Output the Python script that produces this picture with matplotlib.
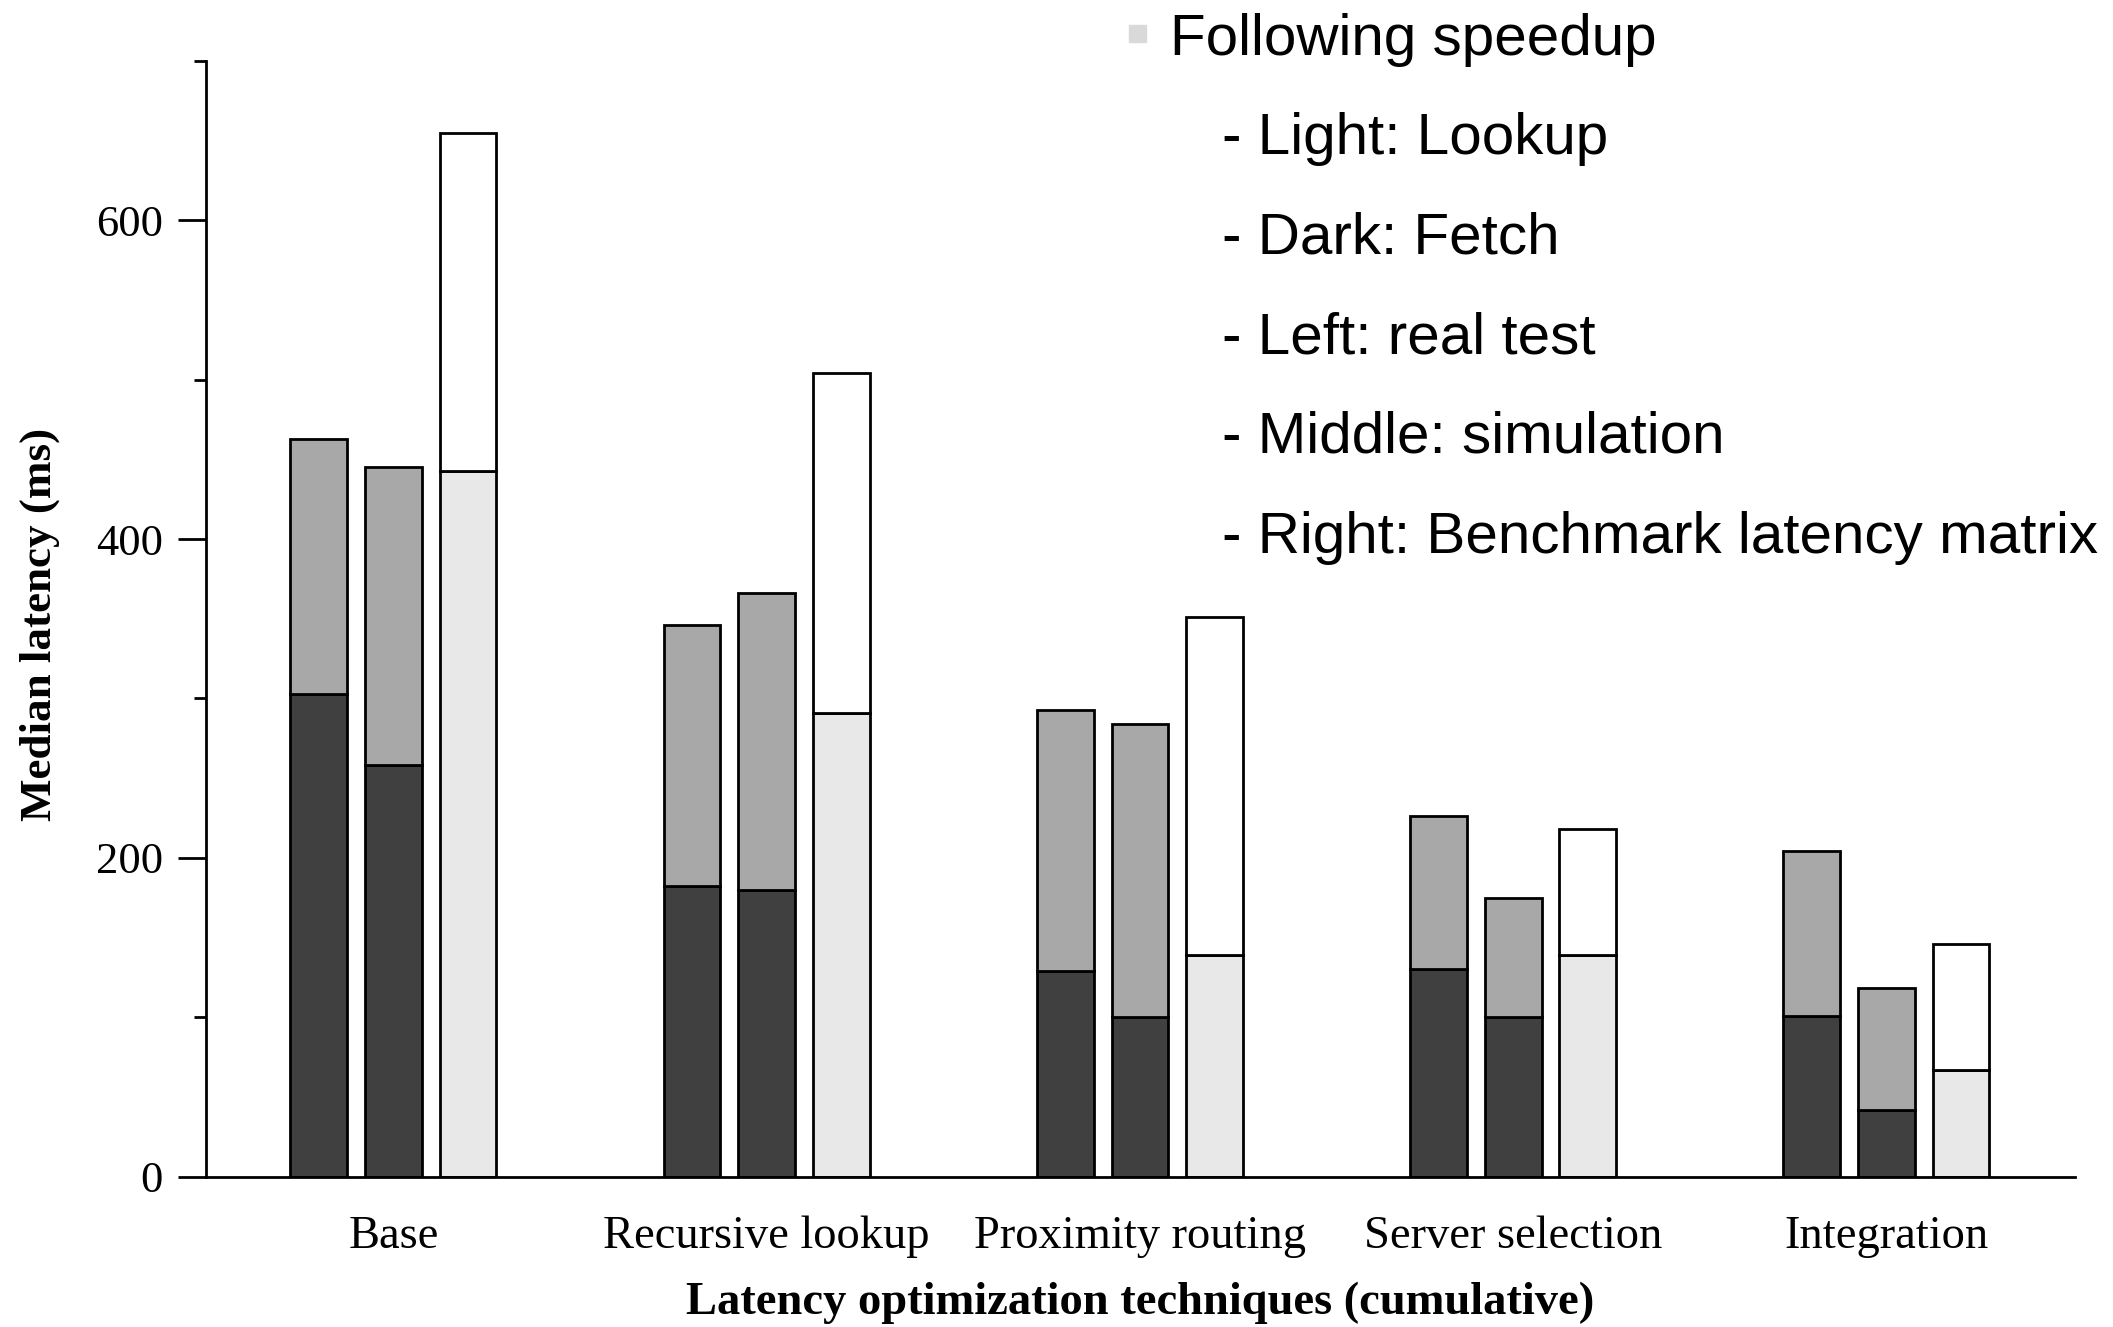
import matplotlib.pyplot as plt
import numpy as np
from matplotlib.ticker import MultipleLocator

techniques = ['Base', 'Recursive lookup', 'Proximity routing',
              'Server selection', 'Integration']

# median latency (ms): fetch part and full bar height (fetch + lookup)
real_fetch = [303, 182, 129, 130, 101]
real_total = [463, 346, 293, 226, 204]
sim_fetch = [258, 180, 100, 100, 42]
sim_total = [445, 366, 284, 175, 118]
matrix_fetch = [443, 291, 139, 139, 67]
matrix_total = [655, 504, 351, 218, 146]

notes = ['Following speedup', '- Light: Lookup', '- Dark: Fetch',
         '- Left: real test', '- Middle: simulation',
         '- Right: Benchmark latency matrix']

serif = 'Liberation Serif'
sans = 'Liberation Sans'

fig = plt.figure(figsize=(21.13, 13.27), dpi=100)
ax = fig.add_axes([0.0975, 0.1134, 0.8845, 0.8406])

x = np.arange(len(techniques))
w = 0.152
edge = dict(edgecolor='black', linewidth=2)

series = [
    (-0.2, real_fetch, real_total, '#404040', '#a8a8a8'),
    (0.0, sim_fetch, sim_total, '#404040', '#a8a8a8'),
    (0.2, matrix_fetch, matrix_total, '#e8e8e8', '#ffffff'),
]
for off, fetch, total, c_low, c_high in series:
    fetch = np.array(fetch)
    lookup = np.array(total) - fetch
    ax.bar(x + off, fetch, w, color=c_low, **edge)
    ax.bar(x + off, lookup, w, bottom=fetch, color=c_high, **edge)

ax.set_xlim(-0.502, 4.505)
ax.set_ylim(0, 700)
ax.spines['top'].set_visible(False)
ax.spines['right'].set_visible(False)
ax.spines['left'].set_linewidth(2)
ax.spines['bottom'].set_linewidth(2)

ax.yaxis.set_major_locator(MultipleLocator(200))
ax.yaxis.set_minor_locator(MultipleLocator(100))
ax.tick_params(axis='y', which='major', length=20, width=2, pad=11,
               labelsize=32)
ax.tick_params(axis='y', which='minor', length=9, width=2)
ax.set_xticks(x)
ax.set_xticklabels(techniques)
ax.tick_params(axis='x', length=0, pad=28, labelsize=33.5)
for lab in ax.get_xticklabels() + ax.get_yticklabels():
    lab.set_fontfamily(serif)

ax.set_xlabel('Latency optimization techniques (cumulative)', fontsize=33.5,
              fontweight='bold', fontfamily=serif, va='center')
ax.xaxis.set_label_coords(0.5, -0.1134)
ax.set_ylabel('Median latency (ms)', fontsize=32.5, fontweight='bold',
              fontfamily=serif, va='center')
ax.yaxis.set_label_coords(-0.0888, 0.495)

# bullet note in the upper right
fig.patches.append(plt.Rectangle((1129 / 2113, 1 - 42 / 1327), 17 / 2113,
                                 17 / 1327, transform=fig.transFigure,
                                 color='#d9d9d9'))
ys = [40, 139, 238, 338, 438, 538]
for i, (t, yp) in enumerate(zip(notes, ys)):
    xp = 1170 if i == 0 else 1222
    fig.text(xp / 2113, 1 - yp / 1327, t, fontsize=42, fontfamily=sans,
             ha='left', va='center')

fig.savefig('out.png', dpi=100)
